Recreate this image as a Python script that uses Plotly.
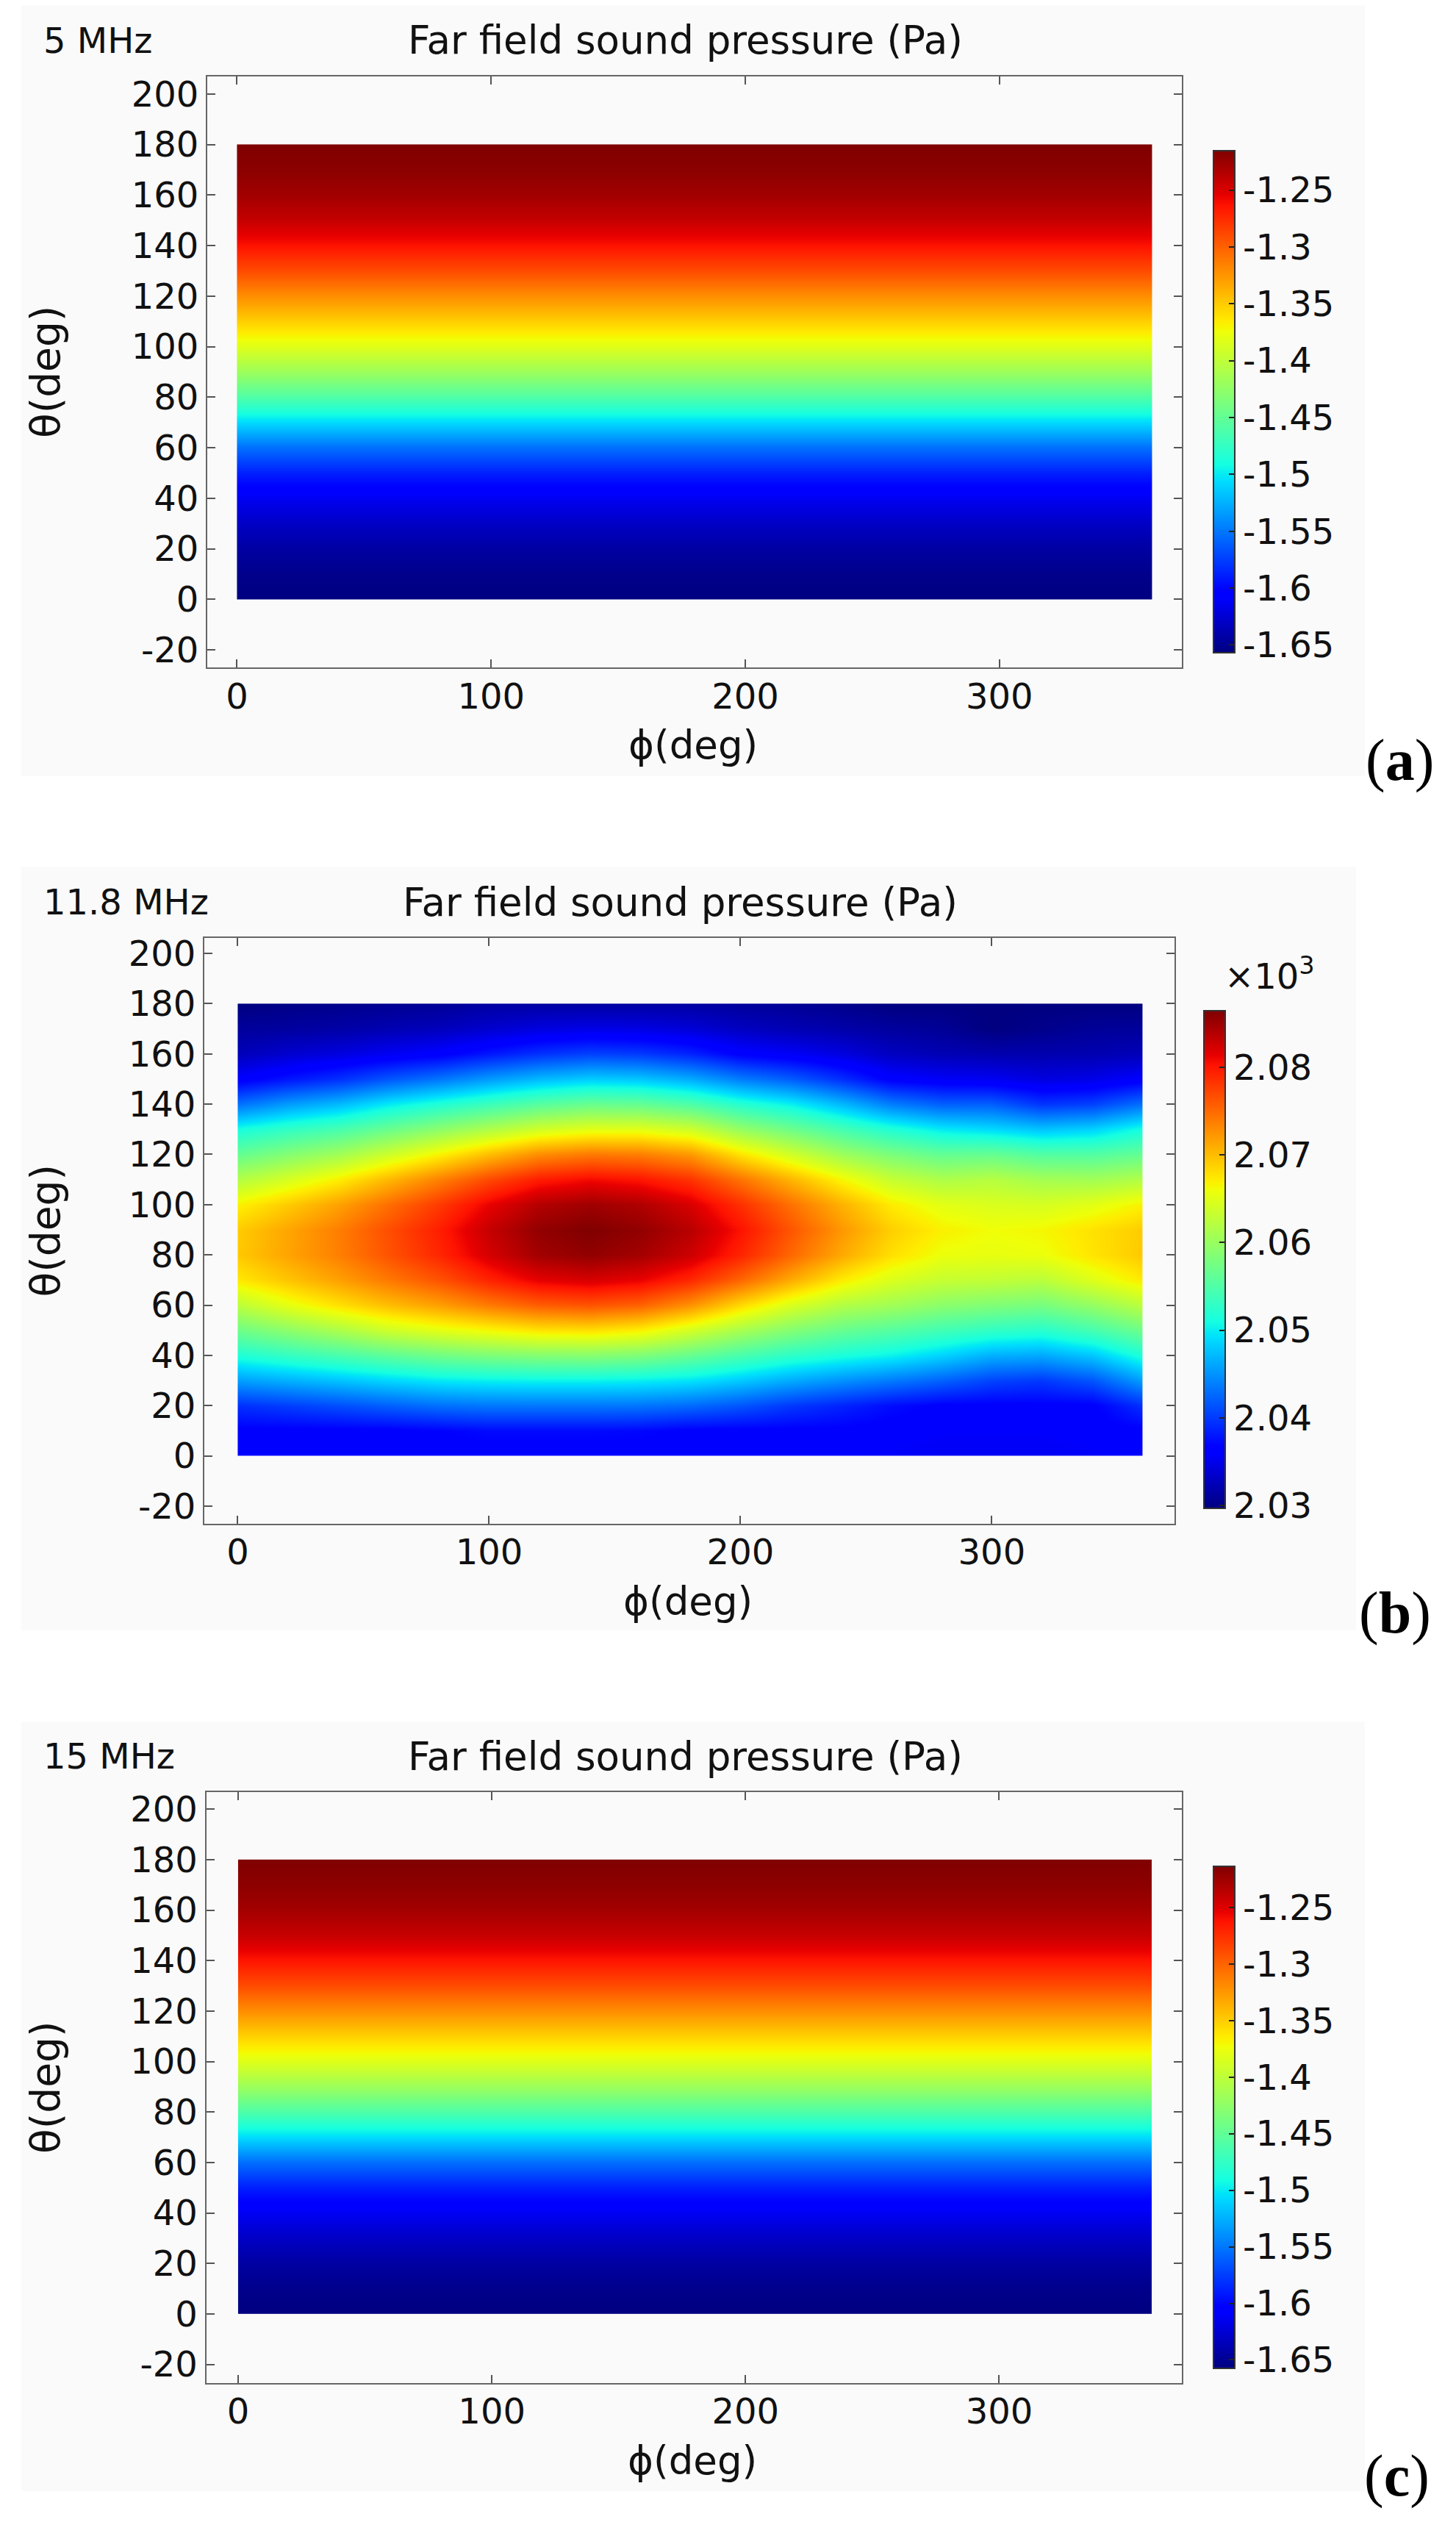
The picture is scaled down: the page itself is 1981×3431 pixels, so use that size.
import numpy as np
import plotly.graph_objects as go

W, H = 1981, 3431

# ------------------------------------------------------------------ data
# Panel (a) 5 MHz : pressure depends on theta only
theta_a = [0, 10, 20, 30, 40, 50, 60, 70, 80, 90, 100, 110, 120, 130, 140, 150, 160, 170, 180]
phi_a = [0, 360]
pressure_a = [-1.6567, -1.6523, -1.6435, -1.6302, -1.6126, -1.5883, -1.5539, -1.5066, -1.4603,
              -1.4183, -1.3830, -1.3521, -1.3212, -1.2903, -1.2638, -1.2418, -1.2285, -1.2197, -1.2153]

# Panel (c) 15 MHz : pressure depends on theta only
theta_c = [0, 10, 20, 30, 40, 50, 60, 70, 80, 90, 100, 110, 120, 130, 140, 150, 160, 170, 180]
phi_c = [0, 360]
pressure_c = [-1.6574, -1.6528, -1.6440, -1.6306, -1.6129, -1.5885, -1.5540, -1.5066, -1.4601,
              -1.4180, -1.3826, -1.3516, -1.3206, -1.2895, -1.2629, -1.2408, -1.2275, -1.2186, -1.2136]

# Panel (b) 11.8 MHz : pressure (x10^3 Pa), one list per phi, values for theta = 0..180 step 10
theta_b = [0, 10, 20, 30, 40, 50, 60, 70, 80, 90, 100, 110, 120, 130, 140, 150, 160, 170, 180]
phi_b = [0, 20, 40, 60, 80, 100, 120, 140, 160, 180, 200, 220, 240, 260, 280, 300, 320, 340, 360]
pb_phi000 = [2.0362, 2.0365, 2.0394, 2.0456, 2.0518, 2.0572, 2.0625, 2.0673, 2.0693, 2.0691, 2.0668, 2.0618, 2.0565, 2.0512, 2.0432, 2.0362, 2.0325, 2.0311, 2.0297]
pb_phi020 = [2.0362, 2.0365, 2.0402, 2.0466, 2.0532, 2.0593, 2.0654, 2.0695, 2.0715, 2.0714, 2.0691, 2.0643, 2.0587, 2.0530, 2.0456, 2.0380, 2.0336, 2.0313, 2.0300]
pb_phi040 = [2.0362, 2.0365, 2.0411, 2.0476, 2.0546, 2.0615, 2.0678, 2.0717, 2.0737, 2.0738, 2.0716, 2.0670, 2.0607, 2.0545, 2.0473, 2.0395, 2.0344, 2.0316, 2.0303]
pb_phi060 = [2.0362, 2.0365, 2.0421, 2.0487, 2.0561, 2.0638, 2.0700, 2.0741, 2.0764, 2.0767, 2.0747, 2.0703, 2.0637, 2.0569, 2.0499, 2.0417, 2.0354, 2.0322, 2.0306]
pb_phi080 = [2.0362, 2.0368, 2.0430, 2.0497, 2.0574, 2.0653, 2.0718, 2.0764, 2.0791, 2.0796, 2.0779, 2.0736, 2.0668, 2.0593, 2.0519, 2.0435, 2.0363, 2.0327, 2.0308]
pb_phi100 = [2.0362, 2.0373, 2.0434, 2.0501, 2.0583, 2.0665, 2.0740, 2.0793, 2.0823, 2.0831, 2.0813, 2.0770, 2.0700, 2.0617, 2.0538, 2.0456, 2.0380, 2.0336, 2.0314]
pb_phi120 = [2.0362, 2.0373, 2.0434, 2.0503, 2.0588, 2.0677, 2.0758, 2.0815, 2.0848, 2.0856, 2.0839, 2.0797, 2.0729, 2.0640, 2.0557, 2.0473, 2.0395, 2.0344, 2.0314]
pb_phi140 = [2.0362, 2.0373, 2.0434, 2.0503, 2.0590, 2.0680, 2.0764, 2.0822, 2.0856, 2.0865, 2.0849, 2.0808, 2.0741, 2.0652, 2.0569, 2.0484, 2.0404, 2.0348, 2.0314]
pb_phi160 = [2.0362, 2.0371, 2.0433, 2.0500, 2.0584, 2.0670, 2.0755, 2.0813, 2.0847, 2.0856, 2.0841, 2.0801, 2.0738, 2.0652, 2.0566, 2.0480, 2.0400, 2.0346, 2.0314]
pb_phi180 = [2.0362, 2.0365, 2.0427, 2.0494, 2.0567, 2.0642, 2.0726, 2.0790, 2.0827, 2.0837, 2.0821, 2.0783, 2.0722, 2.0638, 2.0551, 2.0465, 2.0387, 2.0340, 2.0314]
pb_phi200 = [2.0362, 2.0365, 2.0415, 2.0480, 2.0546, 2.0612, 2.0683, 2.0752, 2.0792, 2.0803, 2.0785, 2.0744, 2.0677, 2.0599, 2.0523, 2.0439, 2.0365, 2.0329, 2.0311]
pb_phi220 = [2.0362, 2.0365, 2.0399, 2.0463, 2.0528, 2.0587, 2.0646, 2.0711, 2.0752, 2.0763, 2.0746, 2.0705, 2.0640, 2.0572, 2.0503, 2.0421, 2.0356, 2.0323, 2.0308]
pb_phi240 = [2.0359, 2.0365, 2.0387, 2.0449, 2.0515, 2.0567, 2.0619, 2.0672, 2.0712, 2.0723, 2.0707, 2.0666, 2.0605, 2.0544, 2.0473, 2.0395, 2.0344, 2.0318, 2.0303]
pb_phi260 = [2.0357, 2.0362, 2.0374, 2.0436, 2.0504, 2.0555, 2.0607, 2.0646, 2.0679, 2.0689, 2.0672, 2.0632, 2.0581, 2.0519, 2.0439, 2.0365, 2.0329, 2.0312, 2.0297]
pb_phi280 = [2.0354, 2.0359, 2.0365, 2.0422, 2.0487, 2.0541, 2.0592, 2.0632, 2.0658, 2.0669, 2.0652, 2.0615, 2.0564, 2.0499, 2.0422, 2.0357, 2.0323, 2.0308, 2.0297]
pb_phi300 = [2.0354, 2.0359, 2.0365, 2.0405, 2.0467, 2.0530, 2.0584, 2.0629, 2.0655, 2.0661, 2.0646, 2.0621, 2.0567, 2.0490, 2.0422, 2.0354, 2.0320, 2.0297, 2.0297]
pb_phi320 = [2.0354, 2.0359, 2.0365, 2.0399, 2.0463, 2.0524, 2.0578, 2.0624, 2.0658, 2.0665, 2.0643, 2.0609, 2.0553, 2.0478, 2.0398, 2.0345, 2.0320, 2.0303, 2.0297]
pb_phi340 = [2.0357, 2.0362, 2.0365, 2.0415, 2.0480, 2.0544, 2.0598, 2.0649, 2.0676, 2.0678, 2.0652, 2.0607, 2.0553, 2.0486, 2.0405, 2.0349, 2.0321, 2.0309, 2.0297]
pb_phi360 = [2.0362, 2.0365, 2.0394, 2.0456, 2.0518, 2.0572, 2.0625, 2.0673, 2.0693, 2.0691, 2.0668, 2.0618, 2.0565, 2.0512, 2.0432, 2.0362, 2.0325, 2.0311, 2.0297]

# tick labels
x_ticks = [0, 100, 200, 300]
y_ticks = [-20, 0, 20, 40, 60, 80, 100, 120, 140, 160, 180, 200]
cb_ticks_ac = [-1.65, -1.6, -1.55, -1.5, -1.45, -1.4, -1.35, -1.3, -1.25]
cb_ticks_b = [2.03, 2.04, 2.05, 2.06, 2.07, 2.08]
cb_range_a = [-1.6567, -1.2153]
cb_range_b = [2.0297, 2.0865]
cb_range_c = [-1.6574, -1.2136]

# ------------------------------------------------------------------ helpers
JET = [[0.0, 'rgb(0,0,128)'], [0.11, 'rgb(0,0,255)'], [0.125, 'rgb(0,0,255)'],
       [0.34, 'rgb(0,219,255)'], [0.35, 'rgb(0,230,247)'], [0.375, 'rgb(21,255,226)'],
       [0.64, 'rgb(239,255,8)'], [0.65, 'rgb(247,245,0)'], [0.66, 'rgb(255,236,0)'],
       [0.89, 'rgb(255,19,0)'], [0.91, 'rgb(232,0,0)'], [1.0, 'rgb(128,0,0)']]

FONT = 'DejaVu Sans'
BG = '#fafafa'


def X(px):
    return px / W


def Y(py):
    return 1 - py / H


def pad(v, eps=0.02):
    v = [float(a) for a in v]
    return [v[0], v[0] + eps] + v[1:-1] + [v[-1] - eps, v[-1]]


def pad_z(z):
    z = np.asarray(z, dtype=float)
    z = np.vstack([z[:1], z, z[-1:]])
    z = np.hstack([z[:, :1], z, z[:, -1:]])
    return z


def fmt(v):
    return ('%.2f' % v).rstrip('0').rstrip('.')


z_a = np.array([[p] * len(phi_a) for p in pressure_a])
z_c = np.array([[p] * len(phi_c) for p in pressure_c])
cols_b = [pb_phi000, pb_phi020, pb_phi040, pb_phi060, pb_phi080, pb_phi100, pb_phi120,
          pb_phi140, pb_phi160, pb_phi180, pb_phi200, pb_phi220, pb_phi240, pb_phi260,
          pb_phi280, pb_phi300, pb_phi320, pb_phi340, pb_phi360]
z_b = np.array(cols_b).T  # rows = theta, cols = phi

panels = [
    dict(n=1, label='a', freq='5 MHz', x=phi_a, y=theta_a, z=z_a, zr=cb_range_a,
         cbt=cb_ticks_ac, box=(28.6, 0, 1857, 1052), ax=(282, 97, 1608, 904),
         xr=(-11.7, 371.8), yr=(-27.0, 207.0), cb=(1651, 198.5, 1680, 884),
         lab=(1904, 1031), tx=932),
    dict(n=2, label='b', freq='11.8 MHz', x=phi_b, y=theta_b, z=z_b, zr=cb_range_b,
         cbt=cb_ticks_b, box=(28.6, 1176, 1845, 2218), ax=(278, 1273, 1598, 2072.5),
         xr=(-13.3, 372.7), yr=(-27.0, 206.2), cb=(1638, 1372, 1667, 2051),
         lab=(1898, 2195), tx=925),
    dict(n=3, label='c', freq='15 MHz', x=phi_c, y=theta_c, z=z_c, zr=cb_range_c,
         cbt=cb_ticks_ac, box=(28.6, 2343, 1857, 3393), ax=(280.5, 2439, 1608, 3245),
         xr=(-12.6, 372.0), yr=(-27.3, 206.7), cb=(1651, 2540, 1680, 3225.5),
         lab=(1900, 3372), tx=932),
]

fig = go.Figure()
shapes = []
annotations = []
layout_axes = {}

tickfont = dict(family=FONT, size=48, color='#111')

for p in panels:
    n = p['n']
    xa_name = 'xaxis' if n == 1 else 'xaxis%d' % n
    ya_name = 'yaxis' if n == 1 else 'yaxis%d' % n
    xref = 'x' if n == 1 else 'x%d' % n
    yref = 'y' if n == 1 else 'y%d' % n
    l, t, r, b = p['ax']
    cl, ct, cr, cbm = p['cb']

    fig.add_trace(go.Heatmap(
        x=pad(p['x']), y=pad(p['y']), z=pad_z(p['z']),
        zsmooth='best', colorscale=JET, zmin=p['zr'][0], zmax=p['zr'][1],
        xaxis=xref, yaxis=yref, hoverinfo='skip',
        colorbar=dict(
            x=X(cl), xanchor='left', y=Y(ct), yanchor='top',
            len=(cbm - ct) / H, lenmode='fraction',
            thickness=cr - cl, thicknessmode='pixels', xpad=0, ypad=0,
            outlinewidth=2, outlinecolor='#333',
            ticks='inside', ticklen=9, tickwidth=2, tickcolor='#222',
            tickvals=p['cbt'], ticktext=[fmt(v) for v in p['cbt']],
            tickfont=tickfont, bgcolor='rgba(0,0,0,0)',
        ),
    ))

    layout_axes[xa_name] = dict(
        domain=[X(l), X(r)], range=list(p['xr']), anchor=yref,
        tickvals=x_ticks, ticktext=[str(v) for v in x_ticks],
        ticks='inside', ticklen=11, tickwidth=2, tickcolor='#555',
        showline=True, linecolor='#666', linewidth=2, mirror='ticks',
        showgrid=False, zeroline=False, tickfont=tickfont, ticklabelstandoff=-4,
        fixedrange=True,
    )
    layout_axes[ya_name] = dict(
        domain=[Y(b), Y(t)], range=list(p['yr']), anchor=xref,
        tickvals=y_ticks, ticktext=[str(v) for v in y_ticks],
        ticks='inside', ticklen=11, tickwidth=2, tickcolor='#555',
        showline=True, linecolor='#666', linewidth=2, mirror='ticks',
        showgrid=False, zeroline=False, tickfont=tickfont, ticklabelstandoff=0,
        fixedrange=True,
    )

    bx0, by0, bx1, by1 = p['box']
    shapes.append(dict(type='rect', xref='paper', yref='paper', layer='below',
                       x0=X(bx0), x1=X(bx1), y0=Y(by1), y1=Y(by0),
                       fillcolor=BG, line=dict(width=0)))

    title_y = t - 49
    annotations.append(dict(xref='paper', yref='paper', x=X(57), y=Y(title_y),
                            xanchor='left', yanchor='middle', showarrow=False,
                            text=p['freq'], font=dict(family=FONT, size=48, color='#111')))
    annotations.append(dict(xref='paper', yref='paper', x=X(p['tx']), y=Y(title_y),
                            xanchor='center', yanchor='middle', showarrow=False,
                            text='Far field sound pressure (Pa)',
                            font=dict(family=FONT, size=53, color='#111')))
    annotations.append(dict(xref='paper', yref='paper', x=X((l + r) / 2 - 2), y=Y(b + 106),
                            xanchor='center', yanchor='middle', showarrow=False,
                            text='ϕ(deg)', font=dict(family=FONT, size=53, color='#111')))
    annotations.append(dict(xref='paper', yref='paper', x=X(62), y=Y((t + b) / 2),
                            xanchor='center', yanchor='middle', showarrow=False, textangle=-90,
                            text='θ(deg)', font=dict(family=FONT, size=55, color='#111')))
    annotations.append(dict(xref='paper', yref='paper', x=X(p['lab'][0]), y=Y(p['lab'][1]),
                            xanchor='center', yanchor='middle', showarrow=False,
                            text='(<b>%s</b>)' % p['label'],
                            font=dict(family='Liberation Serif', size=80, color='#000')))
    if n == 2:
        annotations.append(dict(xref='paper', yref='paper', x=X(1664), y=Y(1322),
                                xanchor='left', yanchor='middle', showarrow=False,
                                text='×10<sup>3</sup>',
                                font=dict(family=FONT, size=48, color='#111')))

fig.update_layout(
    width=W, height=H, autosize=False,
    margin=dict(l=0, r=0, t=0, b=0, pad=0),
    paper_bgcolor='#ffffff', plot_bgcolor=BG,
    font=dict(family=FONT, color='#111'),
    showlegend=False,
    shapes=shapes, annotations=annotations,
    **layout_axes,
)

fig.write_html('out.html', config={'displayModeBar': False, 'staticPlot': True},
               post_script="document.body.style.margin='0';document.body.style.padding='0';")
